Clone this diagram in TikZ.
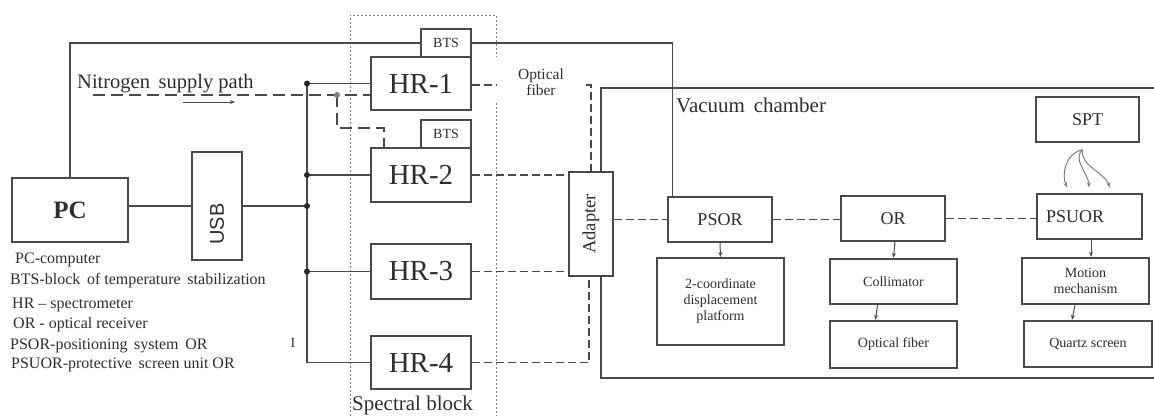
\documentclass[tikz,border=0pt]{standalone}
\usepackage{fontspec}
\setmainfont{Liberation Serif}
\newfontfamily\usbfont{Liberation Sans}
\usetikzlibrary{arrows.meta,calc}
\definecolor{linecol}{HTML}{4A4A4A}
\definecolor{txtcol}{HTML}{2E2E2E}
\newcommand{\fs}[1]{\fontsize{#1}{1.15\dimexpr #1pt\relax}\selectfont}
\begin{document}
\begin{tikzpicture}[x=1pt,y=-1pt,
  box/.style={draw=linecol, line width=1.3pt, fill=white, inner sep=0pt, text=txtcol, align=center},
  heavy/.style={box, line width=2.2pt},
  wire/.style={draw=linecol, line width=1.3pt},
  fiber/.style={wire, dash pattern=on 8pt off 4pt},
  gas/.style={wire, dash pattern=on 12pt off 6pt},
  frameline/.style={draw=gray, line width=0.8pt, dash pattern=on 2pt off 2pt},
  junction/.style={circle, fill=black!85, inner sep=0pt, minimum size=6pt},
  arr/.style={wire, line width=1pt, -{Stealth[length=5pt,width=4pt]}},
  lbl/.style={text=txtcol, inner sep=0pt},
  hrbox/.style={box, minimum width=100pt, font=\fs{29}},
  btsbox/.style={box, minimum width=50pt, minimum height=28pt, font=\fs{14}},
  unitbox/.style={box, minimum height=45pt, font=\fs{18}},
  legend/.style={lbl, anchor=base west, font=\fs{16}}]
\useasboundingbox (0,0) rectangle (1154,416);

% ---------- spectral block frame ----------
\draw[frameline] (350,416) -- (350,15) -- (496,15) -- (496,57);
\draw[frameline] (496,103) -- (496,416);
\node[lbl, anchor=base west, font=\fs{21}] (spblock) at (352,410) {Spectral block};

% ---------- vacuum chamber ----------
\draw[wire] (1154,88) -- (601,88) -- (601,378) -- (1154,378);
\node[lbl, anchor=base west, font=\fs{21}] (vaclbl) at (676,112) {Vacuum\, chamber};

% ---------- control side ----------
\node[box, minimum width=116pt, minimum height=64pt, font=\bfseries\fs{25}] (pc) at (70,210) {PC};
\node[box, minimum width=50pt, minimum height=108pt] (usb) at (217,206) {};
\node[lbl, rotate=90, font=\usbfont\fs{20}] (usblbl) at (217,224) {USB};

% ---------- spectrometers ----------
\node[btsbox] (bts1) at (446,43) {BTS};
\node[hrbox, minimum height=53pt] (hr1) at (421,83.5) {HR-1};
\node[btsbox] (bts2) at (446,134) {BTS};
\node[hrbox, minimum height=54pt] (hr2) at (421,175) {HR-2};
\node[hrbox, minimum height=55pt] (hr3) at (421,271.5) {HR-3};
\node[hrbox, minimum height=53pt] (hr4) at (421,362.5) {HR-4};

% ---------- chamber units ----------
\node[box, minimum width=44pt, minimum height=104pt] (adapter) at (591,224) {};
\node[lbl, rotate=90, font=\fs{18.5}] (adlbl) at (adapter) {Adapter};
\node[unitbox, minimum width=104pt] (psor) at (720,219.5) {PSOR};
\node[unitbox, minimum width=104pt] (or) at (893,218.5) {OR};
\node[unitbox, text width=87pt, inner xsep=9pt, align=left] (psuor) at (1089.5,216.5) {PSUOR};
\node[unitbox, minimum width=103pt] (spt) at (1087.5,119.5) {SPT};

\node[heavy, minimum width=127pt, minimum height=87pt, font=\fs{14}] (platform) at (720.5,301.5)
  {2-coordinate\\displacement\\platform};
\node[heavy, minimum width=127pt, minimum height=45pt, font=\fs{14}] (coll) at (893.5,281.5) {Collimator};
\node[heavy, minimum width=127pt, minimum height=47pt, font=\fs{14}] (ofib) at (893.5,344.5) {Optical fiber};
\node[heavy, minimum width=127pt, minimum height=46pt, font=\fs{14}] (motion) at (1085.5,281) {Motion\\mechanism};
\node[heavy, minimum width=128pt, minimum height=46pt, font=\fs{14}] (quartz) at (1088,344) {Quartz screen};

% ---------- PC wiring ----------
\coordinate (bus) at (307,0);
\coordinate (psorin) at ($(psor.north west)+(5,0)$);
\draw[wire] (pc.north) |- (bts1.west);
\draw[wire] (bts1.east) -| (psorin);
\draw[wire] (usb.west -| pc.east) -- (usb.west);
\draw[wire] (usb.east) -- (usb.east -| bus);
\draw[wire] (hr1.west -| bus) -- (hr4.west -| bus) -- (hr4.west);
\draw[wire] (hr1.west -| bus) -- (hr1.west);
\draw[wire] (hr2.west -| bus) -- (hr2.west);
\draw[wire] (hr3.west -| bus) -- (hr3.west);
\node[junction] at (hr1.west -| bus) {};
\node[junction] at (hr2.west -| bus) {};
\node[junction] at (usb.east -| bus) {};
\node[junction] at (hr3.west -| bus) {};
\node[lbl, font=\fs{14}] (bustag) at (293,343) {I};

% ---------- nitrogen supply ----------
\node[lbl, anchor=base west, font=\fs{20.5}] (n2lbl) at (77,88) {Nitrogen\, supply path};
\coordinate (n0) at (93,95);
\coordinate (nj) at (337,95);
\coordinate (nb) at (384,128);
\draw[gas] (n0) -- (n0 -| hr1.west);
\draw[gas] (nj) |- (nb) -- (nb |- hr2.north);
\node[junction, fill=gray, minimum size=6pt] at (nj) {};
\coordinate (fa) at (183,102);
\coordinate (fb) at (235,102);
\draw[arr] (fa) -- (fb);

% ---------- optical fibres ----------
\node[lbl, font=\fs{15.5}, align=center] (fiblbl) at (541,82) {Optical\\[-2pt]fiber};
\coordinate (f1a) at (496,85);
\coordinate (f1b) at (586,85);
\draw[fiber] (hr1.east |- f1a) -- (f1a);
\draw[fiber] (f1b) -| (adapter.north);
\draw[fiber] (hr2.east) -- (hr2.east -| adapter.west);
\draw[fiber] (hr3.east) -- (hr3.east -| adapter.west);
\draw[fiber] (hr4.east) -| ($(adapter.south)+(-2,0)$);
\draw[fiber] (psor.west -| adapter.east) -- (psor.west);
\draw[fiber] (psor.east) -- (psor.east -| or.west);
\draw[fiber] (or.east) -- (or.east -| psuor.west);

% ---------- mechanical links ----------
\draw[arr] (psor.south) -- (platform.north);
\draw[arr] ($(or.south)+(2,0)$) -- (coll.north);
\draw[arr] ($(coll.south)+(-16,0)$) -- ($(ofib.north)+(-18,0)$);
\draw[arr] ($(psuor.south)+(1.5,0)$) -- ($(motion.north)+(5.5,0)$);
\draw[arr] ($(motion.south)+(-10.5,0)$) -- ($(quartz.north)+(-16,0)$);

% ---------- SPT feeds ----------
\coordinate (sptout) at ($(spt.south)+(-5,7)$);
\coordinate (s1) at ($(psuor.north)+(-22.5,-6)$);
\coordinate (s2) at ($(psuor.north)+(-0.5,-6)$);
\coordinate (s3) at ($(psuor.north)+(20.5,-6)$);
\begin{scope}[arr, draw=gray]
\draw (sptout) .. controls (1064,154) and (1062,176) .. (s1);
\draw (sptout) .. controls (1072,160) and (1088,172) .. (s2);
\draw (sptout) .. controls (1080,166) and (1104,172) .. (s3);
\end{scope}

% ---------- legend ----------
\node[legend] (lg1) at (15,263) {PC-computer};
\node[legend] (lg2) at (10,284) {BTS-block\, of temperature\, stabilization};
\node[legend] (lg3) at (12,308) {HR -- spectrometer};
\node[legend] (lg4) at (13,328) {OR - optical receiver};
\node[legend] (lg5) at (10,349) {PSOR-positioning\, system\, OR};
\node[legend] (lg6) at (11,368) {PSUOR-protective\, screen unit OR};
\end{tikzpicture}
\end{document}
